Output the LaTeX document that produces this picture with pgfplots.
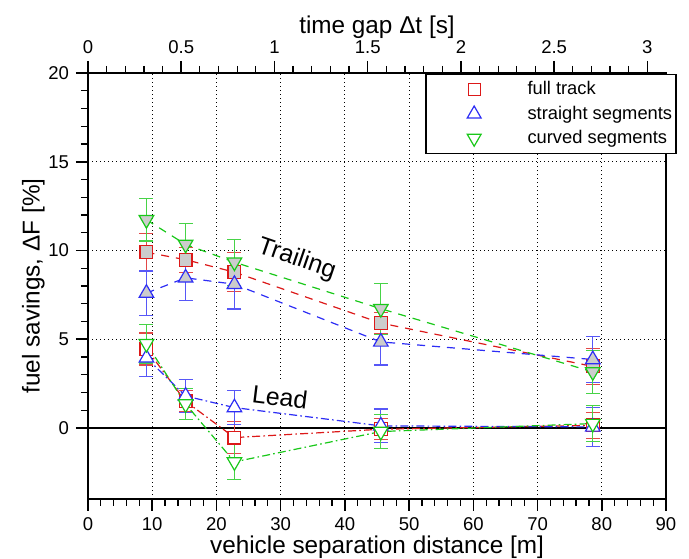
\documentclass[border=0pt]{standalone}
\usepackage{fontspec}
\setmainfont{Liberation Sans}
\usepackage{pgfplots}
\pgfplotsset{compat=1.18}

\definecolor{cred}{RGB}{220,25,25}
\definecolor{cblue}{RGB}{45,45,245}
\definecolor{cgreen}{RGB}{25,200,25}

\pgfplotsset{
  trail/.style={dash pattern=on 4bp off 3.5bp, line width=0.6bp},
  lead/.style={dash pattern=on 4bp off 1.6bp on 0.8bp off 1.6bp, line width=0.6bp},
  errs/.style={error bars/.cd, y dir=both, y explicit,
    error bar style={solid, line width=0.6bp, #1!80!white},
    error mark options={solid, line width=0.6bp, mark size=3.5bp, rotate=90, #1!80!white}},
}

\begin{document}
\begin{tikzpicture}
\path[use as bounding box] (-44bp,-30bp) rectangle (300.5bp,249.5bp);

\begin{axis}[
  scale only axis, width=289bp, height=213bp,
  xmin=0, xmax=90, ymin=-4, ymax=20,
  xtick={0,10,...,90}, ytick={0,5,...,20},
  minor x tick num=4, minor y tick num=4,
  tick align=outside, xtick pos=bottom, ytick pos=left,
  major tick length=6bp, minor tick length=3.5bp,
  every major tick/.style={black, line width=0.8bp},
  every minor tick/.style={black, line width=0.6bp},
  grid=major,
  major grid style={black, line width=0.5bp, dash pattern=on 0.6bp off 1.4bp},
  axis line style={line width=1bp},
  tick label style={font=\fontsize{9.3}{10}\selectfont},
  label style={font=\fontsize{12.2}{14}\selectfont},
  /pgf/number format/assume math mode=true,
  xlabel={vehicle separation distance [m]},
  ylabel={fuel savings, ΔF [\%]},
  xlabel shift=-4.5bp, ylabel shift=-5bp,
  legend style={at={(1.019,0.998)}, anchor=north east, draw=black, line width=0.8bp,
    fill=white, inner xsep=0pt, inner ysep=1.5bp, row sep=0pt,
    font=\fontsize{9.2}{10.5}\selectfont},
  legend cell align=left,
  legend image code/.code={\path (0,0) (1.7cm,0);
    \draw[#1, only marks] plot coordinates {(0.84cm,0cm)};},
]
\addlegendimage{only marks, mark=square, cred, mark size=3bp, line width=0.6bp}
\addlegendimage{only marks, mark=triangle, cblue, mark size=4bp, line width=0.6bp}
\addlegendimage{only marks, mark=triangle, cgreen, mark size=4bp, line width=0.6bp, mark options={rotate=180}}

\fill[white] (axis cs:25.6,7.7) rectangle (axis cs:39.7,10.06);
\fill[white] (axis cs:25.3,0.85) rectangle (axis cs:34.3,2.7);
\draw[line width=1bp] (axis cs:0,0) -- (axis cs:90,0);

% trailing
\addplot[cred, trail, mark=square*, mark size=3.2bp, mark options={solid, fill=black!20}, errs=cred]
  coordinates {(9.1,9.9) +- (0,1.05) (15.2,9.48) +- (0,0.7) (22.8,8.78) +- (0,1.1)
               (45.6,5.91) +- (0,0.6) (78.6,3.47) +- (0,1.03)};
\addplot[cblue, trail, mark=triangle*, mark size=4.2bp, mark options={solid, fill=black!20}, errs=cblue]
  coordinates {(9.1,7.6) +- (0,1.25) (15.2,8.46) +- (0,1.27) (22.8,8.1) +- (0,1.4)
               (45.6,4.85) +- (0,1.3) (78.6,3.86) +- (0,1.3)};
\addplot[cgreen, trail, mark=triangle*, mark size=4.2bp, mark options={solid, fill=black!20, rotate=180}, errs=cgreen]
  coordinates {(9.1,11.73) +- (0,1.2) (15.2,10.34) +- (0,1.17) (22.8,9.34) +- (0,1.3)
               (45.6,6.72) +- (0,1.44) (78.6,3.16) +- (0,1.2)};

% lead
\addplot[cred, lead, mark=square*, mark size=3.2bp, mark options={solid, fill=white}, errs=cred]
  coordinates {(9.1,4.45) +- (0,0.9) (15.2,1.5) +- (0,0.6) (22.8,-0.54) +- (0,0.9)
               (45.6,-0.07) +- (0,0.6) (78.6,0.15) +- (0,0.72)};
\addplot[cblue, lead, mark=triangle*, mark size=4.2bp, mark options={solid, fill=white}, errs=cblue]
  coordinates {(9.1,3.95) +- (0,1.05) (15.2,1.8) +- (0,0.93) (22.8,1.15) +- (0,0.97)
               (45.6,0.12) +- (0,0.95) (78.6,0.06) +- (0,1.1)};
\addplot[cgreen, lead, mark=triangle*, mark size=4.2bp, mark options={solid, fill=white, rotate=180}, errs=cgreen]
  coordinates {(9.1,4.75) +- (0,1.09) (15.2,1.35) +- (0,0.86) (22.8,-1.91) +- (0,1.0)
               (45.6,-0.2) +- (0,0.95) (78.6,0.25) +- (0,1.0)};

\node[rotate=-19, font=\fontsize{12.5}{14}\selectfont] at (axis cs:32.5,9.5) {Trailing};
\node[rotate=-7, font=\fontsize{12.5}{14}\selectfont] at (axis cs:29.9,1.75) {Lead};

\legend{full track, straight segments, curved segments}
\end{axis}

\begin{axis}[
  scale only axis, width=289bp, height=213bp,
  xmin=0, xmax=3.1, ymin=-4, ymax=20,
  axis x line*=top, axis y line=none,
  xtick={0,0.5,...,3}, minor x tick num=4,
  tick align=outside,
  major tick length=6bp, minor tick length=3.5bp,
  every major tick/.style={black, line width=0.8bp},
  every minor tick/.style={black, line width=0.6bp},
  axis line style={line width=1bp},
  tick label style={font=\fontsize{9.3}{10}\selectfont},
  label style={font=\fontsize{12.2}{14}\selectfont},
  /pgf/number format/assume math mode=true,
  xlabel={time gap Δt [s]}, xlabel shift=-5.5bp,
]
\addplot[draw=none, forget plot] coordinates {(0,0)};
\end{axis}
\end{tikzpicture}
\end{document}
